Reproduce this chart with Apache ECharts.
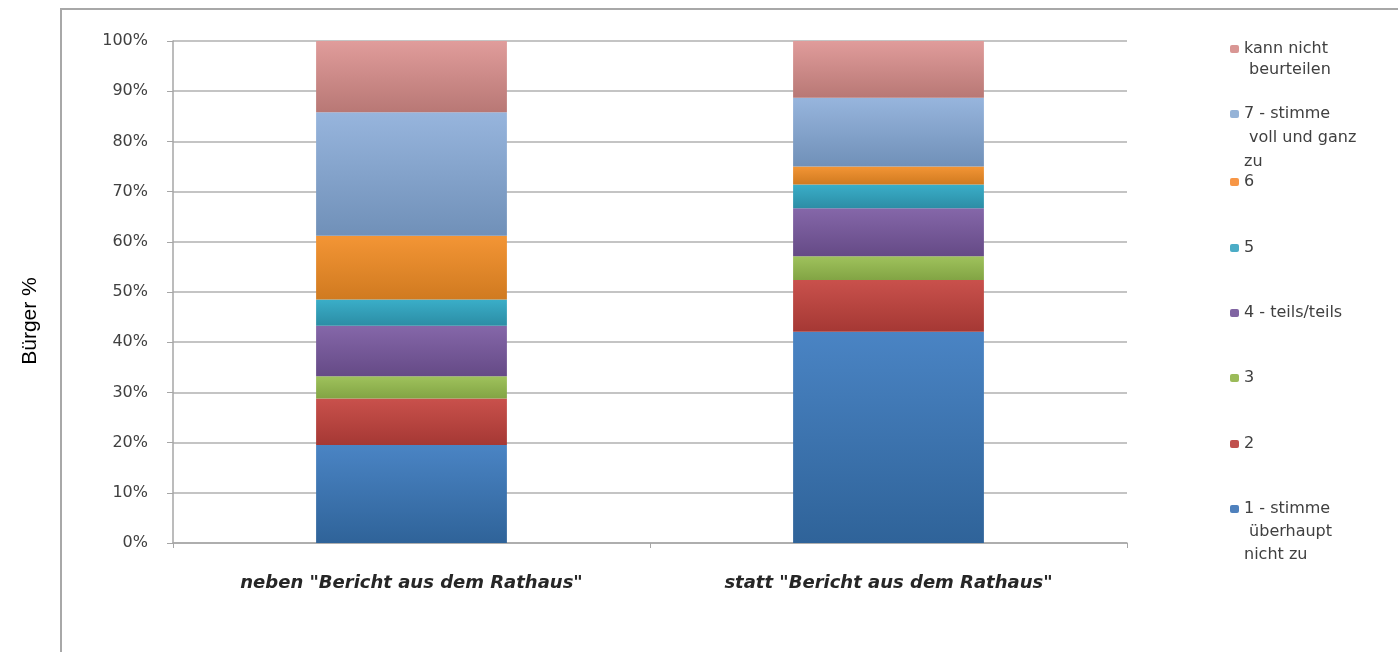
<!DOCTYPE html>
<html>
<head>
<meta charset="utf-8">
<script src="https://cdn.jsdelivr.net/npm/echarts@6/dist/echarts.min.js"></script>
<style>html,body{margin:0;padding:0;background:#fff;}#c{width:1398px;height:652px;}</style>
</head>
<body>
<div id="c"></div>
<script>
const categories = ['neben "Bericht aus dem Rathaus"', 'statt "Bericht aus dem Rathaus"'];
const yTicks = [0, 10, 20, 30, 40, 50, 60, 70, 80, 90, 100];
const seriesNames = ['1 - stimme überhaupt nicht zu', '2', '3', '4 - teils/teils', '5', '6', '7 - stimme voll und ganz zu', 'kann nicht beurteilen'];
const legendTexts = ['1 - stimme\n überhaupt\nnicht zu', '2', '3', '4 - teils/teils', '5', '6', '7 - stimme\n voll und ganz\nzu', 'kann nicht\n beurteilen'];
const v1 = [19.5, 42.1];
const v2 = [9.3, 10.3];
const v3 = [4.4, 4.7];
const v4 = [10.1, 9.6];
const v5 = [5.2, 4.7];
const v6 = [12.7, 3.6];
const v7 = [24.6, 13.7];
const vK = [14.2, 11.3];
const seriesValues = [v1, v2, v3, v4, v5, v6, v7, vK];

const colorsTop = ['#4a84c4', '#c9514c', '#9fc25c', '#8567a9', '#3aaec8', '#f39535', '#97b5dd', '#e09c9b'];
const colorsBottom = ['#2f6399', '#a53834', '#82a444', '#654a86', '#2c8da5', '#d07a20', '#7090b8', '#b87875'];
const legendColors = ['#4f81bd', '#c0504d', '#9bbb59', '#8064a2', '#4bacc6', '#f79646', '#95b3d7', '#d99694'];
const legendIconY = [509, 444, 378, 313, 248, 182, 114, 49];
const legendLineH = [23, 21, 21, 21, 21, 21, 24, 21];

const chart = echarts.init(document.getElementById('c'));

const series = seriesNames.map((n, i) => ({
  name: n,
  type: 'bar',
  stack: 'total',
  barWidth: '40%',
  data: seriesValues[i],
  itemStyle: {
    color: new echarts.graphic.LinearGradient(0, 0, 0, 1, [
      {offset: 0, color: colorsTop[i]},
      {offset: 1, color: colorsBottom[i]}
    ])
  }
}));

const legends = seriesNames.map((n, i) => {
  const L = legendLineH[i];
  const lines = legendTexts[i].split('\n');
  const pad = [];
  for (let k = 1; k < lines.length; k++) pad.push(' ');
  const txt = pad.concat(lines).join('\n');
  const total = pad.length + lines.length;
  return {
    data: [{name: n, itemStyle: {color: legendColors[i]}}],
    left: 1230,
    top: legendIconY[i] - total * L / 2,
    padding: 0,
    itemWidth: 9,
    itemHeight: 8,
    itemGap: 0,
    selectedMode: false,
    formatter: () => txt,
    textStyle: {
      fontFamily: 'DejaVu Sans',
      fontSize: 16,
      color: '#404040',
      lineHeight: L
    }
  };
});

chart.setOption({
  backgroundColor: '#ffffff',
  animation: false,
  grid: {left: 173, right: 271, top: 41, bottom: 109, containLabel: false},
  legend: legends,
  xAxis: {
    type: 'category',
    data: categories,
    axisLine: {show: true, lineStyle: {color: '#a6a6a6', width: 1.5}},
    axisTick: {show: true, length: 5, lineStyle: {color: '#a6a6a6'}},
    axisLabel: {
      margin: 31,
      fontFamily: 'DejaVu Sans',
      fontSize: 18,
      fontWeight: 'bold',
      fontStyle: 'italic',
      color: '#262626'
    }
  },
  yAxis: {
    type: 'value',
    min: yTicks[0],
    max: yTicks[yTicks.length - 1],
    interval: 10,
    axisLine: {show: true, lineStyle: {color: '#a6a6a6', width: 1.5}},
    axisTick: {show: true, length: 6, lineStyle: {color: '#a6a6a6'}},
    splitLine: {show: true, lineStyle: {color: '#c4c4c4', width: 2}},
    axisLabel: {
      margin: 25,
      formatter: '{value}%',
      fontFamily: 'DejaVu Sans',
      fontSize: 16,
      color: '#404040'
    }
  },
  graphic: [
    {
      type: 'rect',
      shape: {x: 61, y: 9, width: 1400, height: 700},
      style: {fill: 'none', stroke: '#a8a8a8', lineWidth: 2},
      silent: true,
      z: -10
    },
    {
      type: 'text',
      x: 30,
      y: 321,
      rotation: Math.PI / 2,
      style: {
        text: 'Bürger %',
        fontFamily: 'Liberation Sans',
        fontSize: 21,
        fill: '#000000',
        align: 'center',
        verticalAlign: 'middle'
      },
      silent: true
    }
  ],
  series: series
});
</script>
</body>
</html>
